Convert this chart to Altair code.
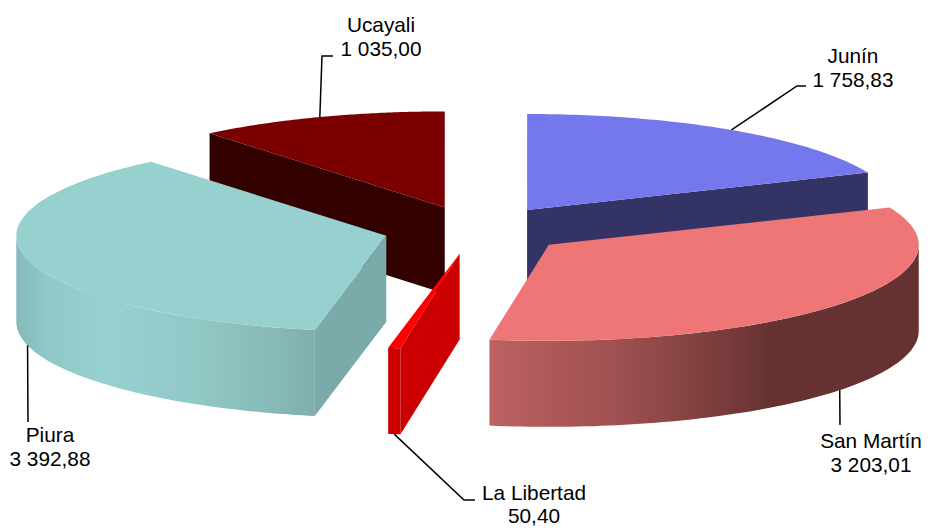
import math
import altair as alt
import pandas as pd

# ---- data ----
regions = ["Junín", "San Martín", "La Libertad", "Piura", "Ucayali"]
values = [1758.83, 3203.01, 50.40, 3392.88, 1035.00]
value_labels = ["1 758,83", "3 203,01", "50,40", "3 392,88", "1 035,00"]
top_colors = ["#7578ec", "#ee7676", "#ff0000", "#96d0cf", "#7a0000"]
cut_colors = ["#333366", None, "#cc0000", "#7aaaa9", "#330000"]
outer_stops = {
    "San Martín": [(0, "#bd6161"), (0.33, "#9b4e4e"), (0.66, "#653231"), (1, "#653231")],
    "La Libertad": "#cc0000",
    "Piura": [(0, "#84b9b8"), (0.1, "#8fc8c7"), (0.3, "#96d0cf"), (0.62, "#90c8c6"),
              (0.85, "#87bab8"), (1, "#7fafad")],
}

# ---- 3D pie layout (image pixels) ----
CX, CY = 476, 230      # centre of the pie top
RX, RY = 370, 96       # ellipse radii
DEPTH = 86             # wall height
EXPLODE = 0.25         # slice explosion
M = 8                  # page margin
W, H = 926, 525        # svg size
S = W / 918            # page shrinks the svg to the body width
OFF_Y = H * (1 - 1 / S) / 2  # the shrunk drawing is centred vertically

# label anchors (centre x, first baseline, line gap), elbow of the leader line
label_pos = {
    "Junín": (853, 63, 24, [(797, 86), (806, 86)]),
    "San Martín": (871, 448, 24, [(840, 425)]),
    "La Libertad": (534, 500, 23, [(464, 500), (475, 500)]),
    "Piura": (50, 442, 24, [(28, 422)]),
    "Ucayali": (381, 32, 24, [(322, 56), (333, 56)]),
}
FONT = "Liberation Sans"
FONT_SIZE = 20.8


def px(v):
    return (v - M) * S


def py(v):
    return (v - M - OFF_Y) * S


total = sum(values)
spans = []
acc = 0.0
for v in values:
    a0 = acc / total * 2 * math.pi
    acc += v
    spans.append((a0, acc / total * 2 * math.pi))


def apex(a0, a1):
    m = (a0 + a1) / 2
    return CX + EXPLODE * RX * math.sin(m), CY - EXPLODE * RY * math.cos(m)


def rim(ax, ay, t, dz=0.0):
    return ax + RX * math.sin(t), ay - RY * math.cos(t) + dz


def arc(ax, ay, a0, a1, dz=0.0, n=80):
    return [rim(ax, ay, a0 + (a1 - a0) * i / n, dz) for i in range(n + 1)]


def piece(points, fill):
    ring = [[px(x), py(y)] for x, y in points]
    ring.append(ring[0])
    feature = {
        "type": "Feature",
        "properties": {},
        "geometry": {"type": "Polygon", "coordinates": [ring]},
    }
    return (
        alt.Chart(alt.Data(values=[feature]))
        .mark_geoshape(fill=fill, strokeWidth=0)
        .project(type="identity", scale=1, translate=[0, 0])
    )


def gradient(stops):
    if isinstance(stops, str):
        return stops
    return alt.Gradient(
        gradient="linear",
        x1=0, x2=1, y1=0, y2=0,
        stops=[alt.GradientStop(offset=o, color=c) for o, c in stops],
    )


layers = []
# back to front painting order
for idx in [4, 0, 3, 2, 1]:
    name = regions[idx]
    a0, a1 = spans[idx]
    ax, ay = apex(a0, a1)
    # straight cut wall that faces the viewer
    if cut_colors[idx]:
        edge = a0 if name in ("Piura", "Ucayali", "La Libertad") else a1
        r = rim(ax, ay, edge)
        layers.append(piece([(ax, ay), r, (r[0], r[1] + DEPTH), (ax, ay + DEPTH)], cut_colors[idx]))
    # curved outer wall, front half only
    if name in outer_stops:
        w0 = max(a0, math.pi / 2)
        w1 = min(a1, 3 * math.pi / 2)
        wall = arc(ax, ay, w0, w1) + arc(ax, ay, w0, w1, DEPTH)[::-1]
        layers.append(piece(wall, gradient(outer_stops[name])))
    # top face
    layers.append(piece([(ax, ay)] + arc(ax, ay, a0, a1), top_colors[idx]))

# leader lines and labels
line_rows = []
text_rows = []
for idx, name in enumerate(regions):
    a0, a1 = spans[idx]
    ax, ay = apex(a0, a1)
    m = (a0 + a1) / 2
    dz = DEPTH if math.cos(m) < 0 else 0
    sx, sy = rim(ax, ay, m, dz)
    lx, ly, gap, elbow = label_pos[name]
    for order, (x, y) in enumerate([(sx, sy)] + elbow):
        line_rows.append({"region": name, "order": order, "x": px(x), "y": py(y)})
    text_rows.append({"t": name, "x": px(lx), "y": py(ly)})
    text_rows.append({"t": value_labels[idx], "x": px(lx), "y": py(ly + gap)})

leaders = (
    alt.Chart(pd.DataFrame(line_rows))
    .mark_line(color="#000000", strokeWidth=1.5 * S)
    .encode(
        x=alt.X("x:Q", scale=None, axis=None),
        y=alt.Y("y:Q", scale=None, axis=None),
        detail="region:N",
        order="order:Q",
    )
)
labels = (
    alt.Chart(pd.DataFrame(text_rows))
    .mark_text(font=FONT, fontSize=FONT_SIZE * S, color="#000000", align="center", baseline="alphabetic")
    .encode(
        x=alt.X("x:Q", scale=None, axis=None),
        y=alt.Y("y:Q", scale=None, axis=None),
        text="t:N",
    )
)

chart = (
    alt.layer(*layers, leaders, labels)
    .properties(width=W, height=H, padding=0, background="#ffffff",
                autosize=alt.AutoSizeParams(type="none"))
    .configure_view(stroke=None)
)

chart.save("out.html", embed_options={"renderer": "svg", "actions": False})
